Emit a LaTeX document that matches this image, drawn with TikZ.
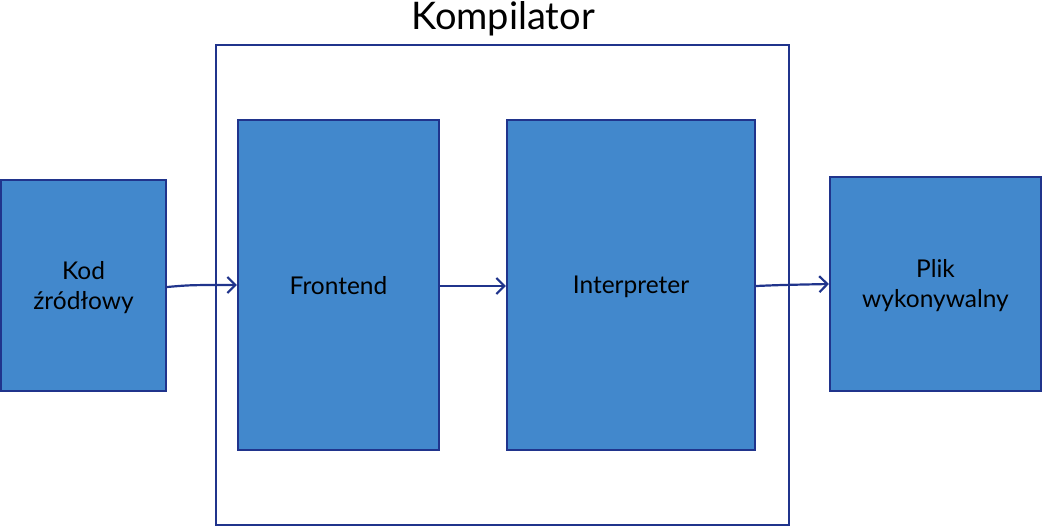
\documentclass[tikz,border=0pt]{standalone}
\usepackage{fontspec}
\setmainfont{Lato}
\usetikzlibrary{arrows.meta}
\definecolor{boxfill}{RGB}{66,136,204}
\definecolor{boxline}{RGB}{32,52,140}
\tikzset{
  block/.style={draw=boxline, fill=boxfill, line width=2.2bp, inner sep=0pt, font=\fontsize{24.5bp}{29bp}\selectfont, align=center},
  oneline/.style={text depth=0pt},
  twoline/.style={text depth=0.5bp},
  conn/.style={draw=boxline, line width=2.2bp, -{Straight Barb[length=8bp,width=16bp,line width=2.2bp]}},
}
\begin{document}
\begin{tikzpicture}[x=1bp,y=-1bp]
\useasboundingbox (0,0) rectangle (1045,529);
\draw[boxline, line width=2.2bp] (216,45) rectangle (789,525);
\node[font=\fontsize{38bp}{44bp}\selectfont] (title) at (503,19) {Kompilator};
\node[block, twoline, minimum width=165bp, minimum height=211bp] (src) at (83.5,285.5) {Kod\\[1bp]źródłowy};
\node[block, oneline, minimum width=201bp, minimum height=330bp] (fe) at (338.5,285) {Frontend};
\node[block, oneline, minimum width=248bp, minimum height=330bp] (ip) at (631,285) {Interpreter};
\node[block, twoline, minimum width=211bp, minimum height=214bp] (out) at (935.5,284) {Plik\\[1bp]wykonywalny};
\draw[conn] (src.east |- 0,287) .. controls (190,285) .. (fe.west |- 0,285);
\draw[conn] (fe.east |- 0,286) -- (ip.west |- 0,286);
\draw[conn] (ip.east |- 0,286) .. controls (780,285) .. (out.west |- 0,284);
\end{tikzpicture}
\end{document}
